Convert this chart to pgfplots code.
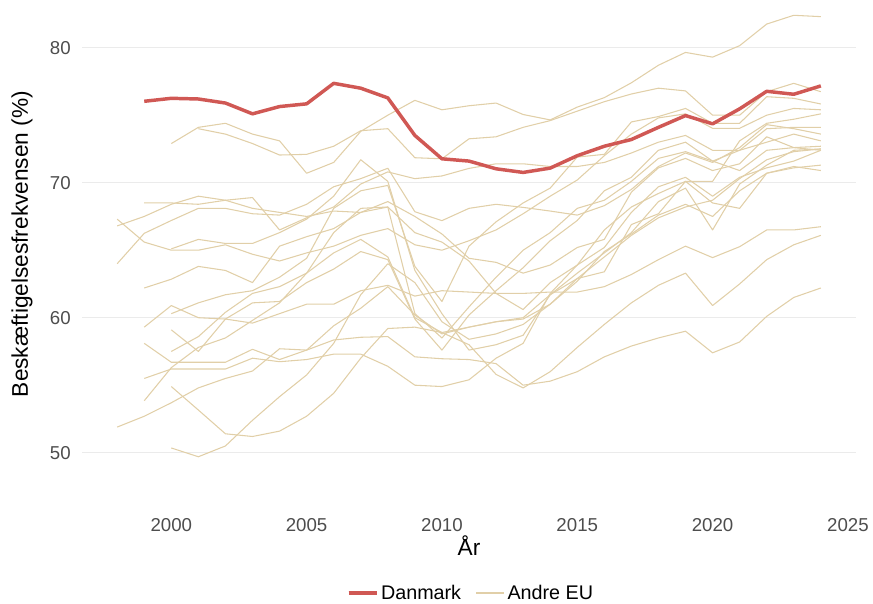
\documentclass[border=0pt]{standalone}
\usepackage{pgfplots}
\pgfplotsset{compat=1.18}
\usepackage{fontspec}
\setmainfont{Liberation Sans}
\definecolor{dkred}{RGB}{208,88,84}
\definecolor{eubeige}{RGB}{225,207,168}
\definecolor{gridgray}{RGB}{235,235,235}
\definecolor{ticktext}{RGB}{77,77,77}
\pgfplotsset{eu/.style={eubeige, line width=0.8pt, line join=round}}
\begin{document}
\begin{tikzpicture}
\useasboundingbox (0,0) rectangle (654.75pt,452.25pt);
\begin{axis}[
  at={(61.5pt,67.16pt)}, anchor=south west,
  width=580.5pt, height=382.725pt, scale only axis,
  xmin=1996.7, xmax=2025.3, ymin=45.5, ymax=83.3,
  axis line style={draw=none}, tick style={draw=none}, major tick length=0pt,
  xtick={2000,2005,2010,2015,2020,2025}, ytick={50,60,70,80},
  ymajorgrids, grid style={gridgray, line width=0.8pt},
  /pgf/number format/1000 sep={},
  /pgf/number format/assume math mode=true,
  xticklabel style={font=\fontsize{14}{16}\selectfont, text=ticktext, anchor=north, inner sep=0pt, yshift=-3.5pt},
  yticklabel style={font=\fontsize{14}{16}\selectfont, text=ticktext, anchor=east, inner sep=0pt, xshift=-8.25pt},
  xlabel={År}, ylabel={Beskæftigelsesfrekvensen (\%)},
  label style={font=\fontsize{17}{20}\selectfont},
  xlabel style={at={(axis description cs:0.5,-0.0638)}, anchor=center},
  ylabel style={at={(axis description cs:-0.0775,0.528)}, anchor=center},
  legend style={at={(axis description cs:0.503,-0.1559)}, anchor=center, draw=none, fill=none,
    font=\fontsize{14.8}{17}\selectfont, /tikz/every even column/.append style={column sep=9pt}},
  legend columns=2,
  legend image code/.code={\draw[#1] (0pt,0pt) -- (18pt,0pt); \path (0pt,0pt) -- (21pt,0pt);},
]
\addlegendimage{dkred, line width=2.6pt}
\addlegendentry{Danmark}
\addlegendimage{eubeige, line width=0.8pt}
\addlegendentry{Andre EU}
% NL
\addplot[eu, forget plot] coordinates {(2000,72.9)(2001,74.1)(2002,74.4)(2003,73.6)(2004,73.1)(2005,70.7)(2006,71.5)(2007,73.8)(2008,75.0)(2009,76.1)(2010,75.4)(2011,75.7)(2012,75.9)(2013,75.05)(2014,74.65)(2015,75.6)(2016,76.3)(2017,77.4)(2018,78.7)(2019,79.65)(2020,79.3)(2021,80.15)(2022,81.75)(2023,82.4)(2024,82.3)};
% SE
\addplot[eu, forget plot] coordinates {(2001,74.0)(2002,73.6)(2003,72.9)(2004,72.05)(2005,72.1)(2006,72.7)(2007,73.85)(2008,74.0)(2009,71.85)(2010,71.77)(2011,73.25)(2012,73.4)(2013,74.1)(2014,74.6)(2015,75.3)(2016,76.0)(2017,76.57)(2018,77.0)(2019,76.8)(2020,75.0)(2021,75.0)(2022,76.74)(2023,77.36)(2024,76.74)};
% AT
\addplot[eu, forget plot] coordinates {(1999,68.5)(2000,68.5)(2001,68.4)(2002,68.7)(2003,68.9)(2004,66.5)(2005,67.4)(2006,68.2)(2007,69.9)(2008,70.8)(2009,70.3)(2010,70.5)(2011,71.06)(2012,71.4)(2013,71.4)(2014,71.2)(2015,71.2)(2016,71.5)(2017,72.2)(2018,73.0)(2019,73.5)(2020,72.4)(2021,72.4)(2022,74.0)(2023,74.1)(2024,74.1)};
% PT
\addplot[eu, forget plot] coordinates {(1998,66.8)(1999,67.5)(2000,68.4)(2001,69.0)(2002,68.7)(2003,68.1)(2004,67.8)(2005,67.5)(2006,67.9)(2007,67.8)(2008,68.2)(2009,66.3)(2010,65.6)(2011,64.2)(2012,61.8)(2013,60.6)(2014,62.6)(2015,63.9)(2016,65.2)(2017,67.8)(2018,69.7)(2019,70.4)(2020,69.0)(2021,70.4)(2022,71.1)(2023,71.6)(2024,72.4)};
% FI
\addplot[eu, forget plot] coordinates {(1998,64.0)(1999,66.25)(2000,67.2)(2001,68.1)(2002,68.1)(2003,67.7)(2004,67.6)(2005,68.4)(2006,69.7)(2007,70.3)(2008,71.07)(2009,67.85)(2010,67.19)(2011,68.1)(2012,68.4)(2013,68.17)(2014,67.9)(2015,67.6)(2016,68.3)(2017,69.5)(2018,71.2)(2019,72.2)(2020,71.5)(2021,72.6)(2022,74.3)(2023,74.0)(2024,73.6)};
% CZ
\addplot[eu, forget plot] coordinates {(1998,67.3)(1999,65.6)(2000,65.0)(2001,65.0)(2002,65.4)(2003,64.7)(2004,64.2)(2005,64.8)(2006,65.3)(2007,66.1)(2008,66.6)(2009,65.4)(2010,65.0)(2011,65.7)(2012,66.5)(2013,67.7)(2014,69.0)(2015,70.2)(2016,72.0)(2017,73.6)(2018,74.8)(2019,75.1)(2020,74.03)(2021,74.03)(2022,75.0)(2023,75.5)(2024,75.4)};
% SI
\addplot[eu, forget plot] coordinates {(1999,62.2)(2000,62.85)(2001,63.8)(2002,63.5)(2003,62.6)(2004,65.3)(2005,66.0)(2006,66.6)(2007,67.8)(2008,68.6)(2009,67.5)(2010,66.2)(2011,64.4)(2012,64.1)(2013,63.3)(2014,63.9)(2015,65.2)(2016,65.8)(2017,69.3)(2018,71.1)(2019,71.8)(2020,70.9)(2021,71.4)(2022,73.4)(2023,72.6)(2024,72.7)};
% BE
\addplot[eu, forget plot] coordinates {(1999,59.3)(2000,60.9)(2001,60.0)(2002,59.9)(2003,59.6)(2004,60.3)(2005,61.0)(2006,61.0)(2007,62.0)(2008,62.4)(2009,61.6)(2010,62.0)(2011,61.9)(2012,61.8)(2013,61.8)(2014,61.9)(2015,61.9)(2016,62.3)(2017,63.2)(2018,64.3)(2019,65.3)(2020,64.45)(2021,65.26)(2022,66.5)(2023,66.5)(2024,66.74)};
% SK
\addplot[eu, forget plot] coordinates {(1999,58.1)(2000,56.7)(2001,56.7)(2002,56.7)(2003,57.66)(2004,56.9)(2005,57.6)(2006,59.4)(2007,60.7)(2008,62.3)(2009,60.2)(2010,58.8)(2011,59.3)(2012,59.7)(2013,59.9)(2014,61.0)(2015,62.7)(2016,64.9)(2017,66.2)(2018,67.6)(2019,68.4)(2020,67.5)(2021,69.4)(2022,70.7)(2023,71.1)(2024,71.3)};
% HU
\addplot[eu, forget plot] coordinates {(1999,55.5)(2000,56.2)(2001,56.2)(2002,56.2)(2003,57.0)(2004,56.74)(2005,56.9)(2006,57.3)(2007,57.3)(2008,56.4)(2009,55.0)(2010,54.9)(2011,55.4)(2012,57.0)(2013,58.1)(2014,61.8)(2015,63.9)(2016,66.5)(2017,68.2)(2018,69.2)(2019,70.1)(2020,70.1)(2021,73.1)(2022,74.4)(2023,74.7)(2024,75.1)};
% ES
\addplot[eu, forget plot] coordinates {(1999,53.85)(2000,56.3)(2001,57.8)(2002,58.5)(2003,59.8)(2004,61.1)(2005,63.3)(2006,64.8)(2007,65.8)(2008,64.5)(2009,60.0)(2010,58.9)(2011,58.0)(2012,55.8)(2013,54.8)(2014,56.0)(2015,57.8)(2016,59.5)(2017,61.1)(2018,62.4)(2019,63.3)(2020,60.9)(2021,62.5)(2022,64.3)(2023,65.4)(2024,66.1)};
% IT
\addplot[eu, forget plot] coordinates {(1998,51.9)(1999,52.7)(2000,53.7)(2001,54.8)(2002,55.5)(2003,56.05)(2004,57.7)(2005,57.6)(2006,58.35)(2007,58.55)(2008,58.6)(2009,57.1)(2010,56.96)(2011,56.9)(2012,56.6)(2013,55.0)(2014,55.3)(2015,56.0)(2016,57.1)(2017,57.9)(2018,58.5)(2019,59.0)(2020,57.4)(2021,58.2)(2022,60.1)(2023,61.5)(2024,62.2)};
% PL
\addplot[eu, forget plot] coordinates {(2000,54.9)(2001,53.16)(2002,51.4)(2003,51.2)(2004,51.6)(2005,52.7)(2006,54.4)(2007,57.0)(2008,59.2)(2009,59.3)(2010,58.9)(2011,59.3)(2012,59.7)(2013,60.0)(2014,61.7)(2015,62.9)(2016,64.5)(2017,66.1)(2018,67.4)(2019,68.2)(2020,68.7)(2021,70.3)(2022,71.7)(2023,72.3)(2024,72.5)};
% BG
\addplot[eu, forget plot] coordinates {(2000,50.35)(2001,49.7)(2002,50.5)(2003,52.4)(2004,54.15)(2005,55.76)(2006,58.1)(2007,61.7)(2008,64.0)(2009,62.6)(2010,59.7)(2011,58.4)(2012,58.8)(2013,59.5)(2014,61.0)(2015,62.9)(2016,63.4)(2017,66.9)(2018,67.7)(2019,70.1)(2020,68.5)(2021,68.1)(2022,70.7)(2023,71.2)(2024,70.9)};
% EE
\addplot[eu, forget plot] coordinates {(2000,60.3)(2001,61.1)(2002,61.7)(2003,62.0)(2004,63.0)(2005,64.4)(2006,68.1)(2007,69.4)(2008,69.8)(2009,63.8)(2010,61.2)(2011,65.3)(2012,67.1)(2013,68.5)(2014,69.6)(2015,71.9)(2016,72.1)(2017,74.5)(2018,74.9)(2019,75.5)(2020,74.4)(2021,74.4)(2022,76.37)(2023,76.25)(2024,75.83)};
% LV
\addplot[eu, forget plot] coordinates {(2000,57.5)(2001,58.6)(2002,60.4)(2003,61.8)(2004,62.3)(2005,63.3)(2006,66.3)(2007,68.1)(2008,68.2)(2009,60.3)(2010,58.5)(2011,60.8)(2012,63.0)(2013,65.0)(2014,66.3)(2015,68.1)(2016,68.7)(2017,70.1)(2018,71.8)(2019,72.3)(2020,71.6)(2021,70.9)(2022,72.4)(2023,72.6)(2024,72.4)};
% LT
\addplot[eu, forget plot] coordinates {(2000,59.1)(2001,57.5)(2002,59.9)(2003,61.1)(2004,61.2)(2005,62.6)(2006,63.6)(2007,64.9)(2008,64.3)(2009,59.9)(2010,57.6)(2011,60.2)(2012,62.0)(2013,63.7)(2014,65.7)(2015,67.2)(2016,69.4)(2017,70.4)(2018,72.4)(2019,73.0)(2020,71.6)(2021,72.4)(2022,73.0)(2023,73.6)(2024,73.1)};
% IE
\addplot[eu, forget plot] coordinates {(2000,65.1)(2001,65.8)(2002,65.5)(2003,65.5)(2004,66.3)(2005,67.3)(2006,69.0)(2007,71.7)(2008,70.1)(2009,63.5)(2010,60.3)(2011,57.6)(2012,58.0)(2013,58.7)(2014,61.7)(2015,63.3)(2016,64.8)(2017,66.3)(2018,68.6)(2019,69.6)(2020,66.5)(2021,69.9)(2022,71.3)(2023,72.4)(2024,72.5)};
% Danmark
\addplot[dkred, line width=2.6pt, line join=round, forget plot] coordinates {(1999,76.03)(2000,76.25)(2001,76.2)(2002,75.9)(2003,75.1)(2004,75.64)(2005,75.84)(2006,77.36)(2007,77.0)(2008,76.28)(2009,73.5)(2010,71.77)(2011,71.6)(2012,71.03)(2013,70.76)(2014,71.08)(2015,72.0)(2016,72.7)(2017,73.2)(2018,74.1)(2019,74.97)(2020,74.36)(2021,75.47)(2022,76.77)(2023,76.55)(2024,77.17)};
\end{axis}
\end{tikzpicture}
\end{document}
